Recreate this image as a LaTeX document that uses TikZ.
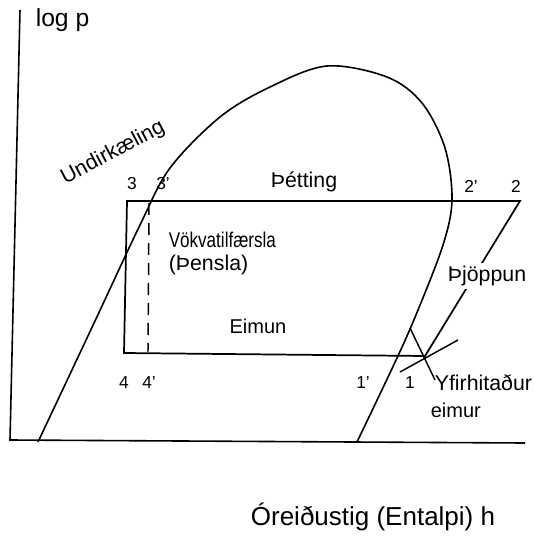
\documentclass[tikz,border=0pt]{standalone}
\usepackage{fontspec}
\setmainfont{Liberation Sans}
\begin{document}
\begin{tikzpicture}[x=0.75pt,y=-0.75pt,line width=1.2pt,
  lbl/.style={inner sep=0pt,font=\fontsize{13}{15}\selectfont},
  txt/.style={inner sep=0pt,font=\fontsize{16}{19}\selectfont},
  cyc/.style={line width=1.3pt}]
\useasboundingbox (0,0) rectangle (534,542);
% axes
\coordinate (ytop) at (20,10);
\coordinate (O) at (10,440);
\coordinate (xend) at (525,443);
\draw (ytop) -- (O) -- (xend);
\node[inner sep=0pt,font=\fontsize{18.5}{22}\selectfont,anchor=west] (logp) at (35,20) {log p};
\node[inner sep=0pt,font=\fontsize{19.5}{23}\selectfont] (hlabel) at (373,517) {Óreiðustig (Entalpi) h};
% saturation dome
\draw[line width=1.2pt] plot[smooth,tension=0.55] coordinates {(38,442) (95,321) (140,225) (170,168) (220,117) (270,87) (327,66) (387,77) (422,103) (445,148) (452,200) (443,245) (418,310) (397,358) (357,442)};
% cycle corners
\coordinate (P3) at (127,201);
\coordinate (P2) at (520,201);
\coordinate (P4) at (124,353);
\coordinate (P1) at (425,356);
\coordinate (D3) at (149,203);
\coordinate (D4) at (148,352);
\draw[cyc] (P4) -- (P3) -- (P2) -- (P1) -- cycle;
\draw[line width=1.1pt,dash pattern=on 9pt off 6pt] (D3) -- (D4);
% superheat marks
\coordinate (t1) at (400,372);
\coordinate (t2) at (458,340);
\draw[line width=1.1pt] (t1) -- (t2);
\coordinate (s1) at (410,328);
\coordinate (s2) at (435,380);
\draw[line width=1.1pt] (s1) -- (s2);
% labels
\node[txt,rotate=28] (undir) at (113,153) {Undirkæling};
\node[lbl] (l3) at (132,184) {3};
\node[lbl] (l3p) at (163,184) {3'};
\node[txt] (thett) at (304,182) {Þétting};
\node[lbl] (l2p) at (471,186) {2'};
\node[lbl] (l2) at (516,186) {2};
\node[txt,anchor=west] (vokv) at (168,240) {\scalebox{0.8}[1]{Vökvatilfærsla}};
\node[txt,anchor=west] (thens) at (168,265) {(Þensla)};
\node[txt,font=\fontsize{15}{18}\selectfont] (eimun) at (258,326) {Eimun};
\node[lbl] (l4) at (124,383) {4};
\node[lbl] (l4p) at (149,383) {4'};
\node[lbl] (l1p) at (363,383) {1'};
\node[lbl] (l1) at (410,383) {1};
\node[txt,anchor=west] (yfir) at (434,383) {Yfirhitaður};
\node[txt,anchor=west,font=\fontsize{15}{18}\selectfont] (eimur) at (430,410) {eimur};
\node[txt,fill=white,inner sep=2pt] (thjopp) at (487,276) {Þjöppun};
\end{tikzpicture}
\end{document}
